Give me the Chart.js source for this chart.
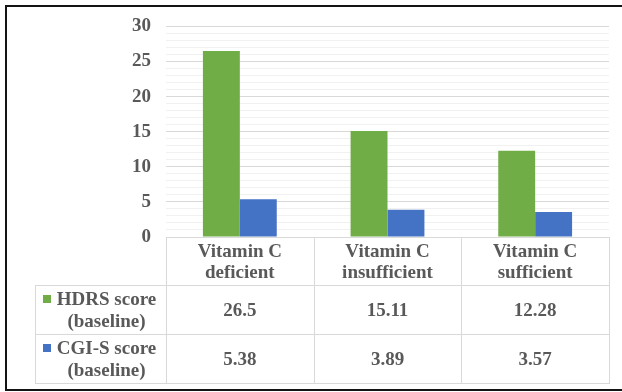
<!DOCTYPE html>
<html><head><meta charset="utf-8">
<script src="https://cdn.jsdelivr.net/npm/chart.js@4"></script>
<style>html,body{margin:0;padding:0;background:#fff;overflow:hidden}#wrap{width:622px;height:392px;position:relative}</style>
</head><body><div id="wrap"><canvas id="c" width="622" height="392"></canvas></div>
<script>
const categories = [["Vitamin C","deficient"],["Vitamin C","insufficient"],["Vitamin C","sufficient"]];
const seriesNames = [["HDRS score","(baseline)"],["CGI-S score","(baseline)"]];
const hdrsValues = [26.5, 15.11, 12.28];
const cgisValues = [5.38, 3.89, 3.57];
const yTickLabels = ["0","5","10","15","20","25","30"];
const seriesColors = ["#70AD47","#4472C4"];

const TEXT = '#595959';
const FONT = 'bold 19px "Liberation Serif", "Times New Roman", serif';

const tablePlugin = {
  id: 'dataTable',
  beforeDraw(chart) {
    const ctx = chart.ctx;
    ctx.save(); ctx.fillStyle = '#fff'; ctx.fillRect(0, 0, chart.width, chart.height); ctx.restore();
  },
  afterDraw(chart) {
    const ctx = chart.ctx, a = chart.chartArea, x = chart.scales.x;
    const n = categories.length;
    const half = (a.right - a.left) / n / 2;
    const bounds = [];
    for (let i = 0; i < n; i++) bounds.push(Math.round(x.getPixelForValue(i) - half));
    bounds.push(Math.round(a.right));
    const top = Math.round(a.bottom);
    const y1 = top + 48, y2 = y1 + 49, y3 = y2 + 49;
    const tableLeft = 35;
    ctx.save();
    ctx.strokeStyle = '#d9d9d9'; ctx.lineWidth = 1;
    const line = (xa, ya, xb, yb) => { ctx.beginPath(); ctx.moveTo(xa, ya); ctx.lineTo(xb, yb); ctx.stroke(); };
    line(bounds[0], top + 0.5, bounds[n], top + 0.5);
    [y1, y2, y3].forEach(yy => line(tableLeft, yy + 0.5, bounds[n], yy + 0.5));
    bounds.forEach(b => line(b + 0.5, top, b + 0.5, y3 + 1));
    line(tableLeft + 0.5, y1, tableLeft + 0.5, y3 + 1);

    ctx.fillStyle = TEXT; ctx.font = FONT; ctx.textAlign = 'center'; ctx.textBaseline = 'alphabetic';
    // category header
    categories.forEach((lines, i) => {
      const cx = x.getPixelForValue(i);
      ctx.fillText(lines[0], cx, top + 20);
      ctx.fillText(lines[1], cx, top + 41);
    });
    // data rows
    const rows = [hdrsValues, cgisValues];
    const rowTops = [y1, y2];
    const labelCx = tableLeft + (bounds[0] - tableLeft) / 2 + 6;
    rows.forEach((vals, r) => {
      const cy = rowTops[r] + 24.5;
      vals.forEach((v, i) => {
        ctx.fillStyle = TEXT;
        ctx.fillText(String(v), x.getPixelForValue(i), cy + 6);
      });
      const l1 = seriesNames[r][0], l2 = seriesNames[r][1];
      const b1 = Math.round(cy - 5), b2 = Math.round(cy + 17);
      ctx.fillStyle = TEXT;
      ctx.fillText(l1, labelCx, b1);
      ctx.fillText(l2, labelCx, b2);
      const w1 = ctx.measureText(l1).width;
      ctx.fillStyle = seriesColors[r];
      ctx.fillRect(Math.round(labelCx - w1 / 2 - 14), b1 - 10, 8, 8);
    });
    // outer frame
    ctx.strokeStyle = '#141414'; ctx.lineWidth = 2;
    ctx.strokeRect(6, 6, 700, 384);
    ctx.restore();
  }
};

new Chart(document.getElementById('c'), {
  type: 'bar',
  data: {
    labels: categories,
    datasets: [
      { label: seriesNames[0].join(' '), data: hdrsValues, backgroundColor: seriesColors[0], barPercentage: 1, categoryPercentage: 0.5 },
      { label: seriesNames[1].join(' '), data: cgisValues, backgroundColor: seriesColors[1], barPercentage: 1, categoryPercentage: 0.5 }
    ]
  },
  options: {
    responsive: false,
    animation: false,
    devicePixelRatio: 1,
    layout: { padding: { left: 0, right: 13, top: 26, bottom: 155 } },
    plugins: { legend: { display: false }, tooltip: { enabled: false } },
    scales: {
      x: { display: false },
      y: {
        min: 0, max: 30,
        afterFit(s) { s.width = 166; },
        border: { display: false },
        grid: { drawTicks: false, color: c => (c.tick && c.tick.value % 5 === 0) ? '#d9d9d9' : '#f1f1f1' },
        ticks: {
          stepSize: 1, autoSkip: false, padding: 15, color: TEXT,
          font: { family: '"Liberation Serif", "Times New Roman", serif', size: 19, weight: 'bold' },
          callback: v => (v % 5 === 0) ? yTickLabels[v / 5] : ''
        }
      }
    }
  },
  plugins: [tablePlugin]
});
</script>
</body></html>
